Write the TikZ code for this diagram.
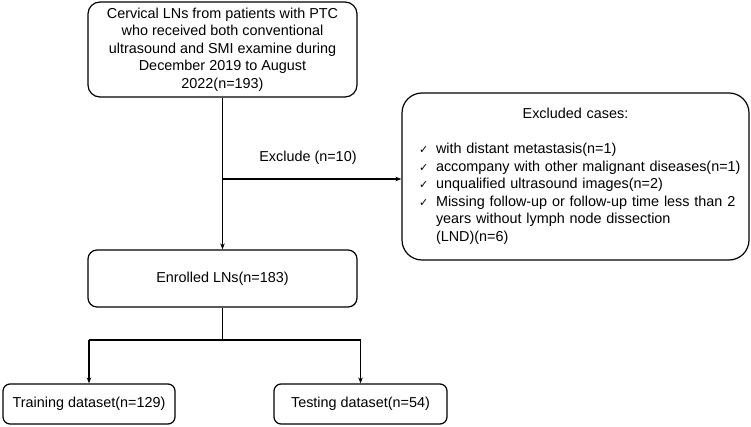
\documentclass[tikz,border=0pt]{standalone}
\usepackage{fontspec}
\setmainfont{Liberation Sans}
\newfontfamily\tickfont{DejaVu Sans}
\usetikzlibrary{arrows.meta}

\newcommand{\chkmark}{\hspace*{8.5pt}\makebox[17pt][l]{\tickfont\fontsize{11}{11}\selectfont ✓}}
\newcommand{\chkgap}{\hspace*{25.5pt}}

\begin{document}
\begin{tikzpicture}[x=1pt,y=1pt,
    every node/.style={font=\fontsize{14.4}{17.5}\selectfont},
    box/.style={draw,line width=1.2pt,rounded corners=#1,inner sep=0pt,align=center},
    box/.default=8pt,
    link/.style={line width=1.2pt},
    arr/.style={link,-{Stealth[length=6pt,width=4.5pt]}}]

        \useasboundingbox (0,0) rectangle (751,426);

        \node[box=12pt,minimum width=269pt,minimum height=95pt] (src) at (222.5,376.5)
            {Cervical LNs from patients with PTC\\who received both conventional\\
             ultrasound and SMI examine during\\December 2019 to August\\2022(n=193)};
        \node[box=20pt,minimum width=347pt,minimum height=167pt,text width=330pt,align=left]
            (excl) at (575.5,249.5)
            {\makebox[\linewidth][c]{Excluded cases:}\\[17.5pt]
             \mbox{\chkmark with distant metastasis(n=1)}\\
             \mbox{\chkmark accompany with other malignant diseases(n=1)}\\
             \mbox{\chkmark unqualified ultrasound images(n=2)}\\
             \mbox{\chkmark Missing follow-up or follow-up time less than 2}\\
             \chkgap years without lymph node dissection\\
             \chkgap (LND)(n=6)};
        \node[box=9pt,minimum width=269pt,minimum height=57pt] (enrol) at (222.5,147.5)
            {Enrolled LNs(n=183)};
        \node[box=7pt,minimum width=172pt,minimum height=40pt] (train) at (89,22)
            {Training dataset(n=129)};
        \node[box=7pt,minimum width=173pt,minimum height=40pt] (test) at (360.5,22)
            {Testing dataset(n=54)};

        \coordinate (cut) at (src.south |- 0,247);
        \coordinate (fork) at (enrol.south |- 0,86);

        \draw[arr] (src) -- (enrol);
        \draw[arr] (cut) -- (cut -| excl.west) node[midway,yshift=21pt,xshift=-4pt] (exlbl) {Exclude (n=10)};
        \draw[link] (enrol) -- (fork);
        \draw[link] (train.north |- fork) -- (test.north |- fork);
        \foreach \leaf in {train,test}
            { \draw[arr] (\leaf.north |- fork) -- (\leaf); }
    \end{tikzpicture}
\end{document}
